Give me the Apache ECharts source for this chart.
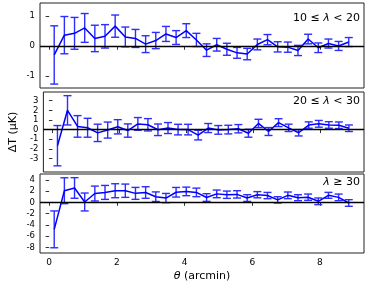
<!DOCTYPE html>
<html><head><meta charset="utf-8">
<script src="https://cdn.jsdelivr.net/npm/echarts@6/dist/echarts.min.js"></script>
<style>html,body{margin:0;padding:0;background:#fff}#c{width:374px;height:289px}</style>
</head><body><div id="c"></div>
<script>
const theta = [0.15,0.45,0.75,1.05,1.35,1.65,1.95,2.25,2.55,2.85,3.15,3.45,3.75,4.05,4.35,4.65,4.95,5.25,5.55,5.85,6.15,6.45,6.75,7.05,7.35,7.65,7.95,8.25,8.55,8.85];
const dT1 = [-0.29,0.37,0.43,0.61,0.26,0.33,0.67,0.31,0.26,0.07,0.19,0.41,0.29,0.52,0.21,-0.13,0.05,-0.10,-0.22,-0.26,0.06,0.22,-0.02,-0.03,-0.14,0.24,-0.05,0.09,0.01,0.14];
const err1 = [0.97,0.62,0.53,0.48,0.44,0.39,0.37,0.33,0.30,0.28,0.27,0.25,0.23,0.23,0.22,0.21,0.21,0.20,0.18,0.19,0.18,0.17,0.17,0.17,0.17,0.16,0.16,0.15,0.15,0.15];
const dT2 = [-1.67,2.00,0.33,0.19,-0.34,-0.05,0.29,-0.10,0.59,0.50,-0.02,0.16,0.00,0.00,-0.57,0.16,-0.03,0.00,0.09,-0.38,0.64,-0.20,0.72,0.18,-0.33,0.47,0.60,0.48,0.45,0.14];
const err2 = [2.09,1.52,1.12,0.98,0.90,0.83,0.74,0.69,0.66,0.64,0.60,0.57,0.55,0.55,0.50,0.47,0.45,0.45,0.43,0.41,0.43,0.41,0.41,0.38,0.33,0.33,0.35,0.34,0.34,0.34];
const dT3 = [-4.80,2.06,2.55,0.06,1.56,1.76,2.06,2.06,1.59,1.74,1.00,0.76,1.79,1.94,1.76,0.85,1.50,1.35,1.41,0.76,1.35,1.20,0.44,1.24,0.82,0.91,0.18,1.24,0.88,-0.12];
const err3 = [3.27,2.30,1.83,1.59,1.32,1.24,1.24,1.18,1.06,1.03,0.85,0.82,0.85,0.76,0.76,0.68,0.68,0.65,0.65,0.60,0.55,0.56,0.56,0.59,0.53,0.56,0.59,0.53,0.59,0.59];
const xTicks = [0,2,4,6,8];
const yTicks1 = [-1,0,1];
const yTicks2 = [-3,-2,-1,0,1,2,3];
const yTicks3 = [-8,-6,-4,-2,0,2,4];
const panelLabels = ['10 ≤ {i|λ} < 20','20 ≤ {i|λ} < 30','{i|λ} ≥ 30'];

const FONT = 'DejaVu Sans';
const grids = [
  {left:40, right:10, top:3, height:85},
  {left:40, right:10, top:92, height:80},
  {left:40, right:10, top:174, height:79}
];
const yRanges = [[-1.39,1.44],[-4.4,3.9],[-9.0,5.03]];
const yTicks = [yTicks1,yTicks2,yTicks3];
const series = [];
const datasets = [[dT1,err1],[dT2,err2],[dT3,err3]];
const xAxes = [], yAxes = [];
for (let k=0;k<3;k++){
  xAxes.push({type:'value', gridIndex:k, min:-0.27, max:9.3,
    axisLine:{show:false}, splitLine:{show:false},
    axisTick:{show:true, length:3.5, inside:false, customValues:xTicks, lineStyle:{color:'#000',width:0.8}},
    axisLabel:{show:k===2, customValues:xTicks, fontFamily:FONT, fontSize:9, color:'#000', margin:5},
    name: k===2 ? '{i|θ} (arcmin)' : '', nameLocation:'middle', nameGap:18,
    nameTextStyle:{fontFamily:FONT, fontSize:11, color:'#000', rich:{i:{fontStyle:'italic', fontFamily:FONT, fontSize:11}}}
  });
  yAxes.push({type:'value', gridIndex:k, min:yRanges[k][0], max:yRanges[k][1],
    axisLine:{show:false}, splitLine:{show:false},
    axisTick:{show:true, length:3.5, inside:false, customValues:yTicks[k], lineStyle:{color:'#000',width:0.8}},
    axisLabel:{customValues:yTicks[k], fontFamily:FONT, fontSize:8.5, color:'#000', margin:5},
    name: k===1 ? 'ΔT (μK)' : '', nameLocation:'middle', nameGap:24, nameRotate:90,
    nameTextStyle:{fontFamily:FONT, fontSize:11, color:'#000'}
  });
  const ys = datasets[k][0], es = datasets[k][1];
  series.push({type:'custom', xAxisIndex:k, yAxisIndex:k, z:2,
    data: theta.map((t,i)=>[t, ys[i]-es[i], ys[i]+es[i]]),
    encode:{x:0, y:[1,2]},
    renderItem:function(params, api){
      const lo = api.coord([api.value(0), api.value(1)]);
      const hi = api.coord([api.value(0), api.value(2)]);
      const w = 4;
      const st = {stroke:'#2d2dff', lineWidth:1.4};
      return {type:'group', children:[
        {type:'line', shape:{x1:lo[0],y1:lo[1],x2:hi[0],y2:hi[1]}, style:st},
        {type:'line', shape:{x1:lo[0]-w,y1:lo[1],x2:lo[0]+w,y2:lo[1]}, style:st},
        {type:'line', shape:{x1:hi[0]-w,y1:hi[1],x2:hi[0]+w,y2:hi[1]}, style:st}
      ]};
    }
  });
  series.push({type:'line', xAxisIndex:k, yAxisIndex:k, z:3,
    data: theta.map((t,i)=>[t, ys[i]]), showSymbol:false, symbol:'none',
    lineStyle:{color:'#0000ff', width:1.5}, animation:false,
    markLine:{silent:true, symbol:'none', label:{show:false},
      lineStyle:{color:'#000', width:1.4, type:'solid'}, data:[{yAxis:0}]}
  });
}
const chart = echarts.init(document.getElementById('c'), null, {renderer:'canvas'});
chart.setOption({
  animation:false,
  backgroundColor:'#fff',
  grid: grids.map(g=>Object.assign({show:true, borderColor:'#222', borderWidth:1, backgroundColor:'transparent'}, g)),
  xAxis: xAxes, yAxis: yAxes, series: series,
  graphic: [
    {type:'text', x:360, y:18, style:{text:panelLabels[0], textAlign:'right', textVerticalAlign:'middle', font:'11px "DejaVu Sans"', fill:'#000', rich:{i:{fontStyle:'italic', fontFamily:FONT, fontSize:11}}}},
    {type:'text', x:360, y:101, style:{text:panelLabels[1], textAlign:'right', textVerticalAlign:'middle', font:'11px "DejaVu Sans"', fill:'#000', rich:{i:{fontStyle:'italic', fontFamily:FONT, fontSize:11}}}},
    {type:'text', x:360, y:182, style:{text:panelLabels[2], textAlign:'right', textVerticalAlign:'middle', font:'11px "DejaVu Sans"', fill:'#000', rich:{i:{fontStyle:'italic', fontFamily:FONT, fontSize:11}}}}
  ]
});
</script></body></html>
